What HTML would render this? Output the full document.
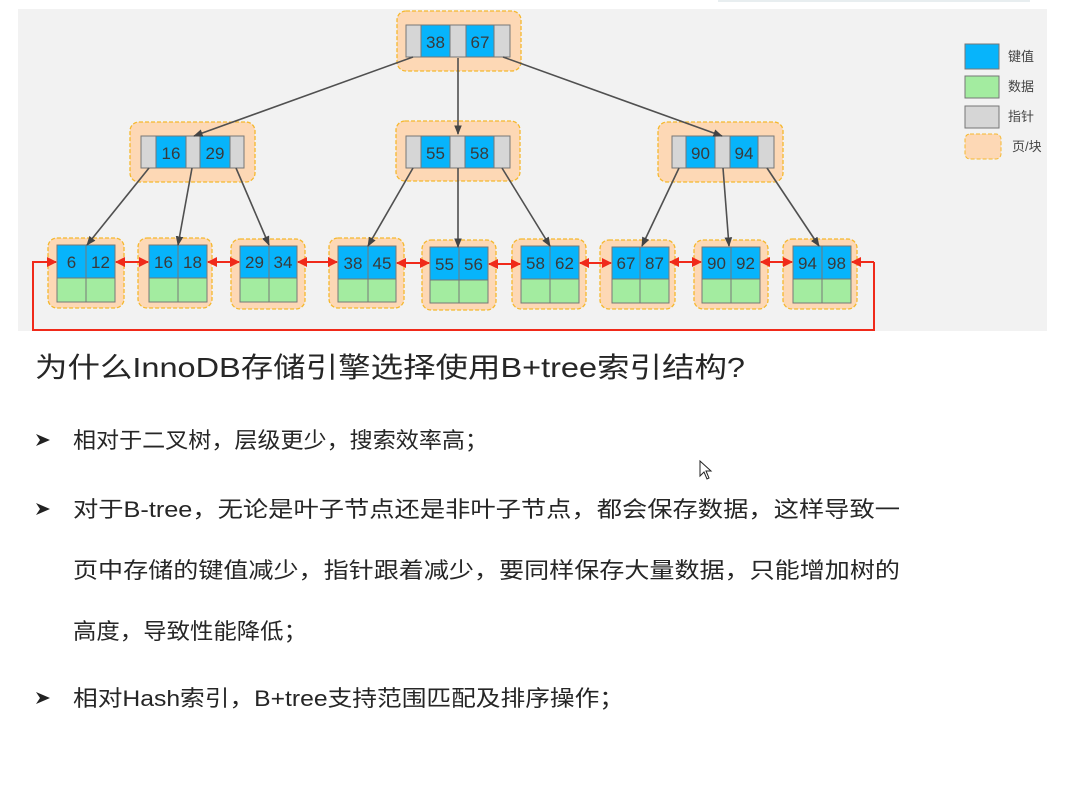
<!DOCTYPE html>
<html><head><meta charset="utf-8"><style>
html,body{margin:0;padding:0;background:#fff;width:1066px;height:804px;overflow:hidden}
svg{display:block}
.n{font-family:"Liberation Sans",sans-serif;font-size:17px;fill:#3a3a3a;text-anchor:middle}
.t{font-family:"Liberation Sans","Noto Sans CJK SC",sans-serif;fill:#262626}
.lg{font-family:"Liberation Sans","Noto Sans CJK SC",sans-serif;font-size:13px;fill:#444}
</style></head><body>
<svg width="1066" height="804" viewBox="0 0 1066 804" xmlns="http://www.w3.org/2000/svg">
<defs>
<marker id="ab" viewBox="0 0 10 10" refX="9" refY="5" markerWidth="6" markerHeight="6" orient="auto-start-reverse"><path d="M0,1 L10,5 L0,9 z" fill="#444"/></marker>
<marker id="ar" viewBox="0 0 10 10" refX="9" refY="5" markerWidth="5" markerHeight="5" orient="auto-start-reverse"><path d="M0,0 L10,5 L0,10 z" fill="#f02a1a"/></marker>
</defs>
<rect x="18" y="9" width="1029" height="322" fill="#f2f2f2"/>
<line x1="718" y1="1" x2="1030" y2="1" stroke="#e8eef0" stroke-width="2"/>

<g stroke="#f5b82e" stroke-width="1.3" stroke-dasharray="4,2" fill="#fdd8b5">
<rect x="397" y="11" width="124" height="60" rx="9"/>
<rect x="130" y="122" width="125" height="60" rx="9"/>
<rect x="396" y="121" width="124" height="60" rx="9"/>
<rect x="658" y="122" width="125" height="60" rx="9"/>
</g>
<g stroke="#777" stroke-width="1">
<rect x="406" y="25" width="15" height="32" fill="#d6d6d6"/><rect x="421" y="25" width="29" height="32" fill="#07b4fb"/><rect x="450" y="25" width="16" height="32" fill="#d6d6d6"/><rect x="466" y="25" width="28" height="32" fill="#07b4fb"/><rect x="494" y="25" width="16" height="32" fill="#d6d6d6"/>
<rect x="141" y="136" width="15" height="32" fill="#d6d6d6"/><rect x="156" y="136" width="30" height="32" fill="#07b4fb"/><rect x="186" y="136" width="14" height="32" fill="#d6d6d6"/><rect x="200" y="136" width="30" height="32" fill="#07b4fb"/><rect x="230" y="136" width="14" height="32" fill="#d6d6d6"/>
<rect x="406" y="136" width="15" height="32" fill="#d6d6d6"/><rect x="421" y="136" width="29" height="32" fill="#07b4fb"/><rect x="450" y="136" width="15" height="32" fill="#d6d6d6"/><rect x="465" y="136" width="29" height="32" fill="#07b4fb"/><rect x="494" y="136" width="16" height="32" fill="#d6d6d6"/>
<rect x="672" y="136" width="14" height="32" fill="#d6d6d6"/><rect x="686" y="136" width="29" height="32" fill="#07b4fb"/><rect x="715" y="136" width="15" height="32" fill="#d6d6d6"/><rect x="730" y="136" width="28" height="32" fill="#07b4fb"/><rect x="758" y="136" width="16" height="32" fill="#d6d6d6"/>
</g>
<text class="n" x="435.5" y="48">38</text><text class="n" x="480" y="48">67</text>
<text class="n" x="171" y="159">16</text><text class="n" x="215" y="159">29</text>
<text class="n" x="435.5" y="159">55</text><text class="n" x="479.5" y="159">58</text>
<text class="n" x="700.5" y="159">90</text><text class="n" x="744" y="159">94</text>

<g stroke="#f5b82e" stroke-width="1.3" stroke-dasharray="4,2" fill="#fdd8b5">
<rect x="48" y="238" width="76" height="70" rx="9"/>
<rect x="138" y="238" width="74" height="70" rx="9"/>
<rect x="231" y="239" width="74" height="70" rx="9"/>
<rect x="329" y="238" width="75" height="70" rx="9"/>
<rect x="422" y="240" width="74" height="70" rx="9"/>
<rect x="512" y="239" width="74" height="70" rx="9"/>
<rect x="600" y="240" width="75" height="69" rx="9"/>
<rect x="694" y="240" width="74" height="69" rx="9"/>
<rect x="783" y="239" width="74" height="70" rx="9"/>
</g>
<g stroke="#777" stroke-width="1">
<rect x="57" y="245" width="29" height="33" fill="#07b4fb"/><rect x="86" y="245" width="29" height="33" fill="#07b4fb"/><rect x="57" y="278" width="29" height="24" fill="#a3eca0"/><rect x="86" y="278" width="29" height="24" fill="#a3eca0"/>
<rect x="149" y="245" width="29" height="33" fill="#07b4fb"/><rect x="178" y="245" width="29" height="33" fill="#07b4fb"/><rect x="149" y="278" width="29" height="24" fill="#a3eca0"/><rect x="178" y="278" width="29" height="24" fill="#a3eca0"/>
<rect x="240" y="246" width="29" height="32" fill="#07b4fb"/><rect x="269" y="246" width="28" height="32" fill="#07b4fb"/><rect x="240" y="278" width="29" height="24" fill="#a3eca0"/><rect x="269" y="278" width="28" height="24" fill="#a3eca0"/>
<rect x="338" y="246" width="30" height="33" fill="#07b4fb"/><rect x="368" y="246" width="28" height="33" fill="#07b4fb"/><rect x="338" y="279" width="30" height="23" fill="#a3eca0"/><rect x="368" y="279" width="28" height="23" fill="#a3eca0"/>
<rect x="430" y="247" width="29" height="33" fill="#07b4fb"/><rect x="459" y="247" width="29" height="33" fill="#07b4fb"/><rect x="430" y="280" width="29" height="23" fill="#a3eca0"/><rect x="459" y="280" width="29" height="23" fill="#a3eca0"/>
<rect x="521" y="246" width="29" height="33" fill="#07b4fb"/><rect x="550" y="246" width="29" height="33" fill="#07b4fb"/><rect x="521" y="279" width="29" height="24" fill="#a3eca0"/><rect x="550" y="279" width="29" height="24" fill="#a3eca0"/>
<rect x="612" y="247" width="28" height="32" fill="#07b4fb"/><rect x="640" y="247" width="29" height="32" fill="#07b4fb"/><rect x="612" y="279" width="28" height="24" fill="#a3eca0"/><rect x="640" y="279" width="29" height="24" fill="#a3eca0"/>
<rect x="702" y="247" width="29" height="32" fill="#07b4fb"/><rect x="731" y="247" width="29" height="32" fill="#07b4fb"/><rect x="702" y="279" width="29" height="24" fill="#a3eca0"/><rect x="731" y="279" width="29" height="24" fill="#a3eca0"/>
<rect x="793" y="246" width="29" height="33" fill="#07b4fb"/><rect x="822" y="246" width="29" height="33" fill="#07b4fb"/><rect x="793" y="279" width="29" height="24" fill="#a3eca0"/><rect x="822" y="279" width="29" height="24" fill="#a3eca0"/>
</g>
<text class="n" x="71.5" y="268">6</text><text class="n" x="100.5" y="268">12</text>
<text class="n" x="163.5" y="268">16</text><text class="n" x="192.5" y="268">18</text>
<text class="n" x="254.5" y="268">29</text><text class="n" x="283" y="268">34</text>
<text class="n" x="353" y="269">38</text><text class="n" x="382" y="269">45</text>
<text class="n" x="444.5" y="270">55</text><text class="n" x="473.5" y="270">56</text>
<text class="n" x="535.5" y="269">58</text><text class="n" x="564.5" y="269">62</text>
<text class="n" x="626" y="269">67</text><text class="n" x="654.5" y="269">87</text>
<text class="n" x="716.5" y="269">90</text><text class="n" x="745.5" y="269">92</text>
<text class="n" x="807.5" y="269">94</text><text class="n" x="836.5" y="269">98</text>

<g stroke="#505050" stroke-width="1.6" marker-end="url(#ab)">
<line x1="413" y1="57" x2="194" y2="136"/>
<line x1="458" y1="58" x2="458" y2="134"/>
<line x1="503" y1="57" x2="722" y2="136"/>
<line x1="149" y1="168" x2="87" y2="245"/>
<line x1="192" y1="168" x2="178" y2="245"/>
<line x1="236" y1="168" x2="269" y2="245"/>
<line x1="413" y1="168" x2="368" y2="246"/>
<line x1="458" y1="168" x2="458" y2="247"/>
<line x1="502" y1="168" x2="550" y2="246"/>
<line x1="679" y1="168" x2="642" y2="246"/>
<line x1="723" y1="168" x2="729" y2="246"/>
<line x1="767" y1="168" x2="819" y2="246"/>
</g>
<g stroke="#f02a1a" stroke-width="2" fill="none">
<line x1="116" y1="262" x2="148" y2="262" marker-start="url(#ar)" marker-end="url(#ar)"/>
<line x1="208" y1="262" x2="239" y2="262" marker-start="url(#ar)" marker-end="url(#ar)"/>
<line x1="298" y1="262" x2="337" y2="262" marker-start="url(#ar)" marker-end="url(#ar)"/>
<line x1="397" y1="263" x2="429" y2="263" marker-start="url(#ar)" marker-end="url(#ar)"/>
<line x1="489" y1="264" x2="520" y2="264" marker-start="url(#ar)" marker-end="url(#ar)"/>
<line x1="580" y1="263" x2="611" y2="263" marker-start="url(#ar)" marker-end="url(#ar)"/>
<line x1="670" y1="262" x2="701" y2="262" marker-start="url(#ar)" marker-end="url(#ar)"/>
<line x1="761" y1="262" x2="792" y2="262" marker-start="url(#ar)" marker-end="url(#ar)"/>
<polyline points="874,262 874,330 33,330 33,262 56,262" marker-end="url(#ar)"/>
<line x1="874" y1="262" x2="852" y2="262" marker-end="url(#ar)"/>
</g>

<rect x="965" y="44" width="34" height="25" fill="#07b4fb" stroke="#777"/>
<rect x="965" y="76" width="34" height="22" fill="#a3eca0" stroke="#777"/>
<rect x="965" y="106" width="34" height="22" fill="#d6d6d6" stroke="#777"/>
<rect x="965" y="134" width="36" height="25" rx="5" fill="#fdd8b5" stroke="#f5b82e" stroke-dasharray="4,2"/>
<text class="lg" x="1008" y="61">键值</text>
<text class="lg" x="1008" y="91">数据</text>
<text class="lg" x="1008" y="121">指针</text>
<text class="lg" x="1012" y="151">页/块</text>

<text class="t" x="35" y="377" font-size="28" textLength="710" lengthAdjust="spacingAndGlyphs">为什么InnoDB存储引擎选择使用B+tree索引结构?</text>
<g fill="#222">
<path d="M36,434 L50,440 L36,446 L40,440 z"/>
<path d="M36,503 L50,509 L36,515 L40,509 z"/>
<path d="M36,692 L50,698 L36,704 L40,698 z"/>
</g>
<text class="t" x="73" y="448" font-size="22" textLength="415" lengthAdjust="spacingAndGlyphs">相对于二叉树，层级更少，搜索效率高；</text>
<text class="t" x="73" y="517" font-size="22" textLength="827" lengthAdjust="spacingAndGlyphs">对于B-tree，无论是叶子节点还是非叶子节点，都会保存数据，这样导致一</text>
<text class="t" x="73" y="578" font-size="22" textLength="827" lengthAdjust="spacingAndGlyphs">页中存储的键值减少，指针跟着减少，要同样保存大量数据，只能增加树的</text>
<text class="t" x="73" y="639" font-size="22" textLength="234" lengthAdjust="spacingAndGlyphs">高度，导致性能降低；</text>
<text class="t" x="73" y="706" font-size="22" textLength="551" lengthAdjust="spacingAndGlyphs">相对Hash索引，B+tree支持范围匹配及排序操作；</text>
<path d="M700,461 L700,476 L704,472 L707,479 L709,478 L706,471 L711,471 z" fill="#fff" stroke="#222" stroke-width="1"/>
</svg>
</body></html>
